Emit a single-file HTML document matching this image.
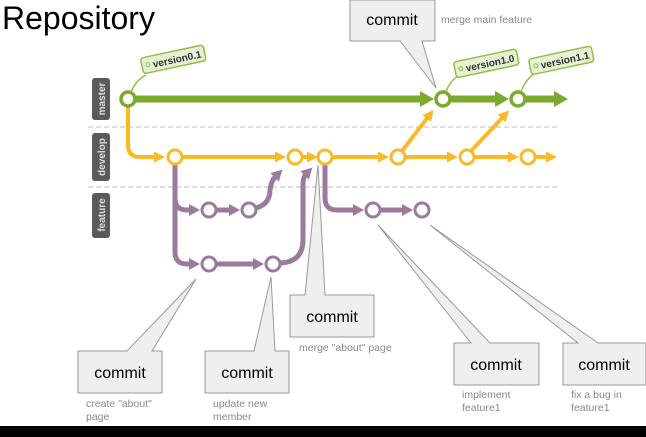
<!DOCTYPE html>
<html><head><meta charset="utf-8"><style>
body{margin:0;background:#fff;width:646px;height:437px;overflow:hidden}
svg{display:block}
text{font-family:"Liberation Sans",sans-serif}
</style></head><body>
<svg width="646" height="437" viewBox="0 0 646 437" xmlns="http://www.w3.org/2000/svg">
<defs>
<marker id="ag" markerWidth="14" markerHeight="16" refX="2" refY="8" orient="auto" markerUnits="userSpaceOnUse"><path d="M0,0 L14,8 L0,16 Z" fill="#7aab2e"/></marker>
<marker id="ay" markerWidth="11" markerHeight="11" refX="2" refY="5.5" orient="auto" markerUnits="userSpaceOnUse"><path d="M0,0 L11,5.5 L0,11 Z" fill="#f9b928"/></marker>
<marker id="ap" markerWidth="11" markerHeight="12" refX="2" refY="6" orient="auto" markerUnits="userSpaceOnUse"><path d="M0,0 L11,6 L0,12 Z" fill="#9b7a9e"/></marker>
</defs>
<text x="2" y="29" font-size="32" fill="#000">Repository</text>

<rect x="92" y="78" width="18" height="42" rx="3" fill="#5a5a5a"/>
<text transform="translate(105,99) rotate(-90)" text-anchor="middle" font-size="10" font-weight="bold" fill="#ddd">master</text>
<rect x="92" y="133" width="18" height="48" rx="3" fill="#5a5a5a"/>
<text transform="translate(105,157) rotate(-90)" text-anchor="middle" font-size="10" font-weight="bold" fill="#ddd">develop</text>
<rect x="92" y="193" width="18" height="45" rx="3" fill="#5a5a5a"/>
<text transform="translate(105,215) rotate(-90)" text-anchor="middle" font-size="10" font-weight="bold" fill="#ddd">feature</text>
<line x1="88" y1="127" x2="560" y2="127" stroke="#bbb" stroke-dasharray="5,3"/>
<line x1="88" y1="187" x2="560" y2="187" stroke="#bbb" stroke-dasharray="5,3"/>

<g stroke="#7aab2e" stroke-width="7" fill="none">
<line x1="135" y1="99" x2="422" y2="99" marker-end="url(#ag)"/>
<line x1="450" y1="99" x2="497" y2="99" marker-end="url(#ag)"/>
<line x1="525" y1="99" x2="556" y2="99" marker-end="url(#ag)"/>
</g>
<g stroke="#f9b928" stroke-width="4" fill="none">
<path d="M128,106 V145 Q128,157 140,157 H156" marker-end="url(#ay)"/>
<line x1="182" y1="157" x2="277" y2="157" marker-end="url(#ay)"/>
<line x1="302" y1="157" x2="309" y2="157" marker-end="url(#ay)"/>
<line x1="332" y1="157" x2="380" y2="157" marker-end="url(#ay)"/>
<line x1="405" y1="157" x2="449" y2="157" marker-end="url(#ay)"/>
<line x1="474" y1="157" x2="510" y2="157" marker-end="url(#ay)"/>
<line x1="535" y1="157" x2="548" y2="157" marker-end="url(#ay)"/>
<line x1="402" y1="151" x2="428" y2="117" marker-end="url(#ay)"/>
<line x1="471" y1="151" x2="503" y2="117" marker-end="url(#ay)"/>
</g>
<g stroke="#9b7a9e" stroke-width="5" fill="none">
<path d="M175,164 V198 Q175,210 187,210 H191" marker-end="url(#ap)"/>
<line x1="216" y1="210" x2="231" y2="210" marker-end="url(#ap)"/>
<path d="M256,208 Q270,204 270,190 Q271,181 276,176" marker-end="url(#ap)"/>
<path d="M175,200 V252 Q175,264 187,264 H191" marker-end="url(#ap)"/>
<line x1="216" y1="264" x2="255" y2="264" marker-end="url(#ap)"/>
<path d="M280,263 Q303,262 303,240 V185 Q303,177 306,174" marker-end="url(#ap)"/>
<path d="M325,164 V198 Q325,210 337,210 H355" marker-end="url(#ap)"/>
<line x1="380" y1="210" x2="404" y2="210" marker-end="url(#ap)"/>
</g>
<g fill="#fff">
<g stroke="#7aab2e" stroke-width="3.5"><circle cx="128" cy="99" r="7"/><circle cx="443" cy="99" r="7"/><circle cx="518" cy="99" r="7"/></g>
<g stroke="#f9b928" stroke-width="3"><circle cx="175" cy="157" r="7"/><circle cx="295" cy="157" r="7"/><circle cx="325" cy="157" r="7"/><circle cx="398" cy="157" r="7"/><circle cx="467" cy="157" r="7"/><circle cx="528" cy="157" r="7"/></g>
<g stroke="#9b7a9e" stroke-width="3"><circle cx="209" cy="210" r="7"/><circle cx="249" cy="210" r="7"/><circle cx="209" cy="264" r="7"/><circle cx="273" cy="264" r="7"/><circle cx="373" cy="210" r="7"/><circle cx="422" cy="210" r="7"/></g>
</g>
<g stroke="#8fbf45" stroke-width="1.5" fill="none">
<path d="M131,92 Q136,80 146,75"/><path d="M446,92 Q450,80 460,75"/><path d="M521,92 Q525,80 535,73"/>
</g>
<g transform="translate(142,66) rotate(-12)"><rect x="0" y="-8" width="64" height="16" rx="3" fill="#e6f0d2" stroke="#8fbf45" stroke-width="1.5"/><circle cx="6" cy="0" r="2" fill="none" stroke="#8fbf45"/><text x="11" y="4" font-size="10" font-weight="bold" fill="#333">version0.1</text></g>
<g transform="translate(455,70) rotate(-12)"><rect x="0" y="-8" width="64" height="16" rx="3" fill="#e6f0d2" stroke="#8fbf45" stroke-width="1.5"/><circle cx="6" cy="0" r="2" fill="none" stroke="#8fbf45"/><text x="11" y="4" font-size="10" font-weight="bold" fill="#333">version1.0</text></g>
<g transform="translate(530,67) rotate(-12)"><rect x="0" y="-8" width="64" height="16" rx="3" fill="#e6f0d2" stroke="#8fbf45" stroke-width="1.5"/><circle cx="6" cy="0" r="2" fill="none" stroke="#8fbf45"/><text x="11" y="4" font-size="10" font-weight="bold" fill="#333">version1.1</text></g>

<g fill="#efefef" stroke="#999" stroke-width="1">
<path d="M350,0 H435 V41 H422 L436,88 L400,41 H350 Z"/>
<path d="M78,351 H127 L196,279 L152,351 H162 V393 H78 Z"/>
<path d="M205,351 H254 L271,277 L275,351 H289 V393 H205 Z"/>
<path d="M290,295 H305 L318,165 L325,295 H374 V337 H290 Z"/>
<path d="M454,343 H471 L378,225 L490,343 H539 V385 H454 Z"/>
<path d="M563,343 H578 L430,225 L598,343 H646 V385 H563 Z"/>
</g>
<g font-size="16" fill="#000" text-anchor="middle">
<text x="392" y="25">commit</text>
<text x="120" y="378">commit</text>
<text x="247" y="378">commit</text>
<text x="332" y="322">commit</text>
<text x="496" y="370">commit</text>
<text x="604" y="370">commit</text>
</g>
<g font-size="10.5" fill="#888">
<text x="441" y="23">merge main feature</text>
<text x="299" y="351">merge "about" page</text>
<text x="86" y="407">create "about"</text><text x="86" y="420">page</text>
<text x="213" y="407">update new</text><text x="213" y="420">member</text>
<text x="462" y="398">implement</text><text x="462" y="411">feature1</text>
<text x="571" y="398">fix a bug in</text><text x="571" y="411">feature1</text>
</g>
<rect x="0" y="426" width="646" height="11" fill="#000"/>
</svg>
</body></html>
